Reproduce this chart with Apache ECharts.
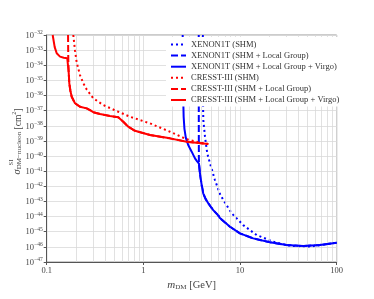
<!DOCTYPE html>
<html><head><meta charset="utf-8">
<script src="https://cdn.jsdelivr.net/npm/echarts@6/dist/echarts.min.js"></script>
<style>html,body{margin:0;padding:0;background:#fff}#c{width:374px;height:299px}</style>
</head><body><div id="c"></div>
<script>
// x: m_DM [GeV]; y: log10 of sigma [cm^2]
const seriesNames = [
  'XENON1T (SHM)',
  'XENON1T (SHM + Local Group)',
  'XENON1T (SHM + Local Group + Virgo)',
  'CRESST-III (SHM)',
  'CRESST-III (SHM + Local Group)',
  'CRESST-III (SHM + Local Group + Virgo)'
];
const xTicks = [0.1, 1, 10, 100];
const yTicks = [-47,-46,-45,-44,-43,-42,-41,-40,-39,-38,-37,-36,-35,-34,-33,-32];
const xMinorGrid = [0.2,0.3,0.4,0.5,0.6,0.7,0.8,0.9,2,3,4,5,6,7,8,9,20,30,40,50,60,70,80,90];

const xenonSHM = [[4.12,-32],[4.13,-36.0],[4.17,-37.62],[4.34,-38.72],[4.58,-39.82],[4.89,-40.48],[5.50,-41.58],[6.20,-42.51],[6.71,-42.9],[8.19,-43.78],[10.79,-44.56],[14.85,-45.22],[22.05,-45.66],[32.81,-45.93],[52.8,-45.98],[100,-45.73]];
const xenonLG = [[3.74,-32],[3.745,-38.0],[3.75,-40.0],[3.76,-40.50],[3.85,-41.14],[4.007,-41.90],[4.16,-42.46],[4.41,-42.84],[4.69,-43.12],[5.28,-43.57],[5.95,-43.92],[6.20,-44.10],[7.87,-44.67],[9.98,-45.11],[13.69,-45.44],[20.38,-45.70],[30.33,-45.88],[45.0,-45.95],[67.0,-45.88],[100,-45.73]];
const xenonLGV = [[2.55,-32],[2.58,-36.0],[2.61,-37.4],[2.66,-38.2],[2.75,-38.8],[2.91,-39.27],[3.16,-39.71],[3.42,-40.15],[3.60,-40.35],[3.76,-40.50],[3.85,-41.14],[4.007,-41.90],[4.16,-42.46],[4.41,-42.84],[4.69,-43.12],[5.28,-43.57],[5.95,-43.92],[6.20,-44.10],[7.87,-44.67],[9.98,-45.11],[13.69,-45.44],[20.38,-45.70],[30.33,-45.88],[45.0,-45.95],[67.0,-45.88],[100,-45.73]];
const cresstSHM = [[0.1884,-32],[0.1960,-33.0],[0.2042,-33.80],[0.2210,-34.65],[0.2400,-35.2],[0.2593,-35.60],[0.3033,-36.18],[0.3849,-36.63],[0.5501,-37.07],[0.727,-37.40],[1.170,-37.84],[1.884,-38.39],[2.804,-38.89],[3.85,-39.12],[4.69,-39.20]];
const cresstLG = [[0.1663,-32],[0.1668,-33.0],[0.1673,-33.65],[0.1690,-34.5],[0.1713,-35.19],[0.1760,-35.7],[0.1814,-36.08],[0.1962,-36.51],[0.2210,-36.74],[0.2593,-36.85],[0.2804,-36.96],[0.3033,-37.10],[0.3557,-37.22],[0.4515,-37.35],[0.5501,-37.44],[0.5728,-37.51],[0.6196,-37.73],[0.698,-38.06],[0.8188,-38.33],[1.170,-38.61],[1.884,-38.83],[2.804,-39.05],[4.69,-39.20]];
const cresstLGV = [[0.1153,-32],[0.1210,-32.8],[0.1269,-33.21],[0.1373,-33.43],[0.1500,-33.50],[0.1633,-33.54],[0.1673,-33.65],[0.1690,-34.5],[0.1713,-35.19],[0.1760,-35.7],[0.1814,-36.08],[0.1962,-36.51],[0.2210,-36.74],[0.2593,-36.85],[0.2804,-36.96],[0.3033,-37.10],[0.3557,-37.22],[0.4515,-37.35],[0.5501,-37.44],[0.5728,-37.51],[0.6196,-37.73],[0.698,-38.06],[0.8188,-38.33],[1.170,-38.61],[1.884,-38.83],[2.804,-39.05],[4.69,-39.20]];

const seriesData = [xenonSHM, xenonLG, xenonLGV, cresstSHM, cresstLG, cresstLGV];
const colors = ['#0000ff','#0000ff','#0000ff','#ff0000','#ff0000','#ff0000'];
const dashes = [[2,3],[7,3],'solid',[2,3],[7,3],'solid'];

const FONT = 'Liberation Serif';
const chart = echarts.init(document.getElementById('c'));

const series = [{
  type:'line', name:'_grid', data:[[0.1,-47]], symbol:'none', silent:true, z:1,
  lineStyle:{opacity:0},
  markLine:{silent:true, symbol:'none', label:{show:false},
    lineStyle:{color:'#d9d9d9', width:0.8, type:'solid'},
    emphasis:{disabled:true},
    data: xMinorGrid.map(v => ({xAxis:v}))}
}];
seriesData.forEach((d,i) => series.push({
  type:'line', name:seriesNames[i], data:d, symbol:'none', showSymbol:false,
  clip:true, z: 3 + i,
  lineStyle:{color:colors[i], width:2, type:dashes[i]},
  itemStyle:{color:colors[i]}
}));

chart.setOption({
  animation:false,
  grid:{left:46.7, right:37.3, top:35, bottom:37, show:true, borderColor:'#999', borderWidth:1, backgroundColor:'transparent'},
  xAxis:{type:'log', logBase:10, min:0.1, max:100,
    axisLine:{show:true, lineStyle:{color:'#555', width:1}},
    axisTick:{show:true, length:3, lineStyle:{color:'#555'}},
    splitLine:{show:true, lineStyle:{color:'#d9d9d9', width:0.8}},
    axisLabel:{color:'#444', fontFamily:FONT, fontSize:8.5, margin:4,
      formatter: v => { const t = xTicks.find(k => Math.abs(k - v) / k < 1e-6); return t === undefined ? '' : String(t); }},
    name:'{m|m}{sub|DM}{n| [GeV]}', nameLocation:'middle', nameGap:13,
    nameTextStyle:{rich:{
      m:{fontFamily:FONT, fontStyle:'italic', fontSize:11, color:'#444', verticalAlign:'bottom', lineHeight:12},
      sub:{fontFamily:FONT, fontSize:7, color:'#444', verticalAlign:'bottom', lineHeight:9},
      n:{fontFamily:FONT, fontSize:10.5, color:'#444', verticalAlign:'bottom', lineHeight:12}
    }}
  },
  yAxis:{type:'value', min:-47, max:-32, interval:1,
    axisLine:{show:true, lineStyle:{color:'#555', width:1}},
    axisTick:{show:true, length:3, lineStyle:{color:'#555'}},
    splitLine:{show:true, lineStyle:{color:'#d9d9d9', width:0.8}},
    axisLabel:{margin:4, formatter: v => '{b|10}{s|\u2212' + Math.abs(v) + '}',
      rich:{
        b:{fontFamily:FONT, fontSize:8.5, color:'#444', lineHeight:10, verticalAlign:'bottom'},
        s:{fontFamily:FONT, fontSize:5.5, color:'#444', lineHeight:6, verticalAlign:'top'}
      }}
  },
  legend:{orient:'vertical', left:166, top:37, padding:[2,8,1,4], z:20,
    itemWidth:15, itemHeight:11, itemGap:0.1,
    backgroundColor:'#ffffff',
    data: seriesNames,
    itemStyle:{color:'rgba(0,0,0,0)', borderColor:'rgba(0,0,0,0)', borderWidth:0},
    lineStyle:{width:2},
    textStyle:{fontFamily:FONT, fontSize:8.5, color:'#333', lineHeight:11},
    selectedMode:false
  },
  graphic:[
    {type:'text', x:17, y:141.5, rotation:Math.PI/2, z:10,
      style:{text:'{sig|\u03c3}{sub|DM\u2212nucleon}{u| [cm}{sup|2}{u|]}', align:'center', verticalAlign:'middle',
        rich:{
          sig:{fontFamily:FONT, fontStyle:'italic', fontSize:10.5, fill:'#444', lineHeight:12, verticalAlign:'bottom'},
          sub:{fontFamily:FONT, fontSize:7, fill:'#444', lineHeight:8, verticalAlign:'bottom'},
          u:{fontFamily:FONT, fontSize:9.5, fill:'#444', lineHeight:12, verticalAlign:'bottom'},
          sup:{fontFamily:FONT, fontSize:6, fill:'#444', lineHeight:6, verticalAlign:'top'}
        }}},
    {type:'text', x:11.5, y:162.5, rotation:Math.PI/2, z:10,
      style:{text:'SI', align:'center', verticalAlign:'middle', fontFamily:FONT, fontSize:6.5, fill:'#444'}}
  ],
  series: series
});
</script></body></html>
